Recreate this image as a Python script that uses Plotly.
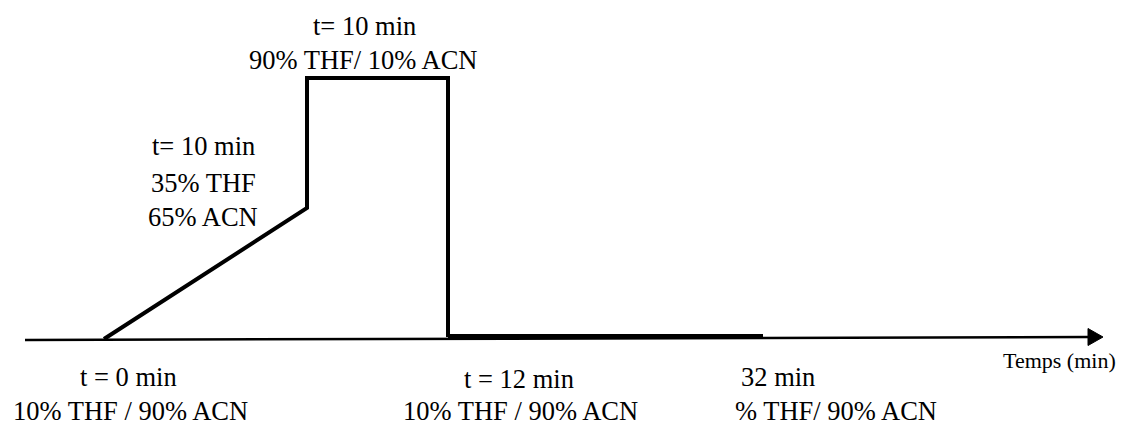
import plotly.graph_objects as go

# Schematic gradient profile (diagram units: x across the page, y down the page)
profile_x = [104, 307, 307, 448, 448]
profile_y = [339, 208, 78, 78, 337]
hold_x = [448, 763]
hold_y = [336, 336]

# Time axis
axis_x = [25, 1090]
axis_y = [340, 337]
arrow_x = [1088, 1103, 1088, 1088]
arrow_y = [328.5, 337, 345.5, 328.5]

# Labels: (text, x, y, size)
labels = [
    ("t= 10 min", 364, 26, 26.5),
    ("90% THF/ 10% ACN", 363, 60, 26.5),
    ("t= 10 min", 203, 146, 26.5),
    ("35% THF", 203, 183, 26.5),
    ("65% ACN", 203, 217, 26.5),
    ("t = 0 min", 128, 377, 26.5),
    ("10% THF / 90% ACN", 130, 411, 26.5),
    ("t = 12 min", 519, 379, 26.5),
    ("10% THF / 90% ACN", 520, 411, 26.5),
    ("32 min", 778, 377, 26.5),
    ("% THF/ 90% ACN", 836, 411, 26.5),
    ("Temps (min)", 1059, 360, 22),
]

fig = go.Figure()
fig.add_trace(go.Scatter(x=axis_x, y=axis_y, mode="lines",
                         line=dict(color="black", width=2.5), hoverinfo="skip"))
fig.add_trace(go.Scatter(x=arrow_x, y=arrow_y, mode="lines", fill="toself",
                         fillcolor="black", line=dict(color="black", width=1),
                         hoverinfo="skip"))
fig.add_trace(go.Scatter(x=profile_x, y=profile_y, mode="lines",
                         line=dict(color="black", width=4), hoverinfo="skip"))
fig.add_trace(go.Scatter(x=hold_x, y=hold_y, mode="lines",
                         line=dict(color="black", width=4), hoverinfo="skip"))

for text, x, y, size in labels:
    fig.add_annotation(x=x, y=y, text=text, showarrow=False,
                       xanchor="center", yanchor="middle",
                       font=dict(family="Liberation Serif", size=size, color="black"))

# The page body has an 8 px margin; the axis ranges start at 8 so that
# diagram units line up with window pixels.
fig.update_layout(
    width=1117, height=413,
    margin=dict(l=0, r=0, t=0, b=0),
    paper_bgcolor="white", plot_bgcolor="white",
    showlegend=False,
    xaxis=dict(range=[8, 1125], visible=False, fixedrange=True),
    yaxis=dict(range=[421, 8], visible=False, fixedrange=True),
)

fig.write_html("out.html", config={"displayModeBar": False})
